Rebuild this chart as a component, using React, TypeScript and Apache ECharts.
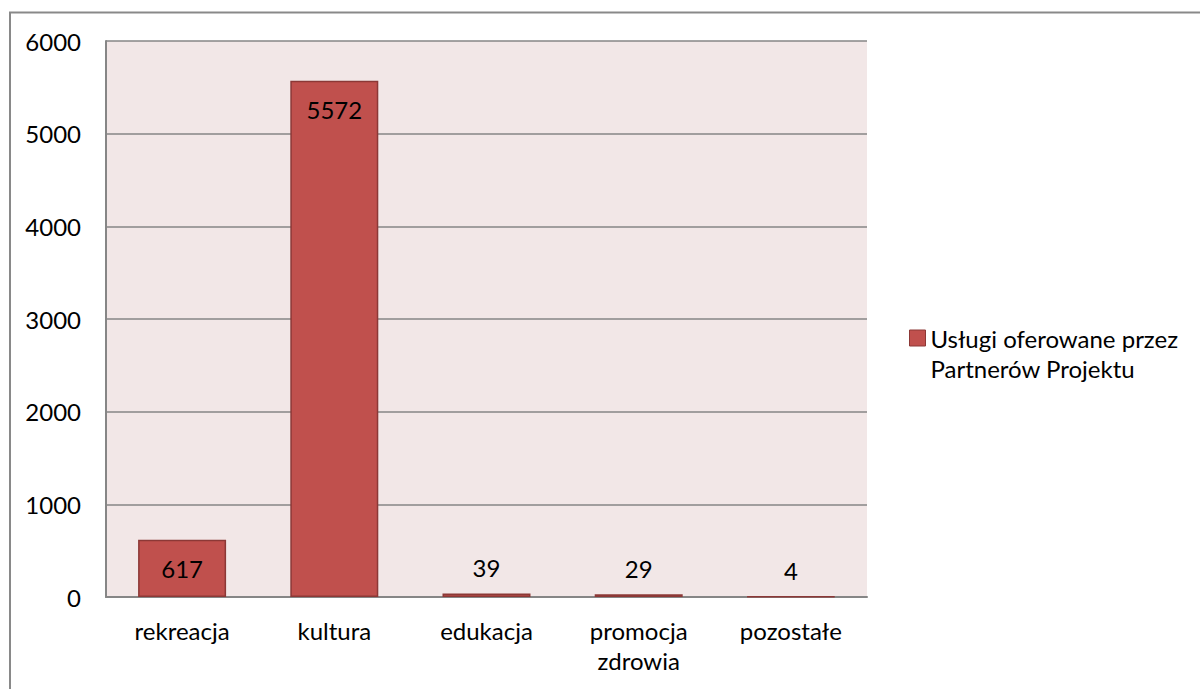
import React, { useEffect, useRef } from "react";
import * as echarts from "echarts";

const categories = ["rekreacja", "kultura", "edukacja", "promocja\nzdrowia", "pozostałe"];
const values = [617, 5572, 39, 29, 4];
const seriesName = "Usługi oferowane przez Partnerów Projektu";
const legendLines = ["Usługi oferowane przez", "Partnerów Projektu"];
const yTicks = { min: 0, max: 6000, interval: 1000 };

const FONT = "Lato";

export default function App() {
  const ref = useRef<HTMLDivElement>(null);
  useEffect(() => {
    if (!ref.current) return;
    const chart = echarts.init(ref.current, undefined, { renderer: "svg" });
    const data = values.map((v) => ({
      value: v,
      label:
        v > 300
          ? { position: "insideTop", distance: 17 }
          : { position: "top", distance: 14 },
    }));
    chart.setOption({
      animation: false,
      backgroundColor: "#ffffff",
      textStyle: { fontFamily: FONT },
      grid: {
        left: 106,
        top: 41,
        right: 1200 - 867,
        bottom: 689 - 597,
        show: true,
        backgroundColor: "#F2E7E7",
        borderWidth: 0,
      },
      legend: {
        show: true,
        left: 909,
        top: 293,
        padding: 0,
        itemWidth: 16,
        itemHeight: 16,
        itemGap: 0,
        icon: "rect",
        data: [seriesName],
        formatter: () => "\n" + legendLines.join("\n"),
        textStyle: {
          fontFamily: FONT,
          fontSize: 24,
          color: "#000",
          lineHeight: 30,
        },
        itemStyle: { borderColor: "#8C3836", borderWidth: 1 },
      },
      xAxis: {
        type: "category",
        data: categories,
        axisLine: { show: true, lineStyle: { color: "#868686", width: 2 } },
        axisTick: { show: false },
        axisLabel: {
          color: "#000",
          fontFamily: FONT,
          fontSize: 24,
          lineHeight: 30,
          margin: 18,
          interval: 0,
        },
      },
      yAxis: {
        type: "value",
        min: yTicks.min,
        max: yTicks.max,
        interval: yTicks.interval,
        axisLine: { show: true, lineStyle: { color: "#868686", width: 2 } },
        axisTick: { show: false },
        splitLine: { show: true, lineStyle: { color: "#868686", width: 1.5 } },
        axisLabel: {
          color: "#000",
          fontFamily: FONT,
          fontSize: 24,
          margin: 25,
          formatter: (v: number) => String(v),
        },
      },
      graphic: [
        {
          type: "rect",
          shape: { x: 10, y: 12.5, width: 1400, height: 900 },
          style: { fill: "none", stroke: "#898989", lineWidth: 2 },
          z: 100,
          silent: true,
        },
      ],
      series: [
        {
          name: seriesName,
          type: "bar",
          data,
          barWidth: 88,
          itemStyle: { color: "#C0504D", borderColor: "#8C3836", borderWidth: 1.5 },
          label: {
            show: true,
            color: "#000",
            fontFamily: FONT,
            fontSize: 24,
          },
        },
      ],
    });
    return () => chart.dispose();
  }, []);
  return (
    <div
      ref={ref}
      style={{ position: "fixed", left: 0, top: 0, width: 1200, height: 689 }}
    />
  );
}
